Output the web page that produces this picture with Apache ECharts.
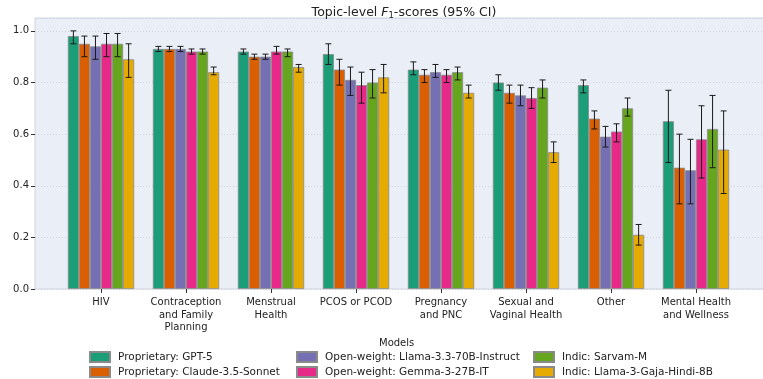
<!DOCTYPE html>
<html>
<head>
<meta charset="utf-8">
<script src="https://cdn.jsdelivr.net/npm/echarts@6/dist/echarts.min.js"></script>
<style>
  html, body { margin: 0; padding: 0; background: #fff; }
  #chart { width: 763px; height: 379px; }
</style>
</head>
<body>
<div id="chart"></div>
<script>
// topics on the x axis
var categories = ['HIV', 'Contraception\nand Family\nPlanning', 'Menstrual\nHealth', 'PCOS or PCOD',
  'Pregnancy\nand PNC', 'Sexual and\nVaginal Health', 'Other', 'Mental Health\nand Wellness'];

var models = ['Proprietary: GPT-5', 'Proprietary: Claude-3.5-Sonnet', 'Open-weight: Llama-3.3-70B-Instruct',
  'Open-weight: Gemma-3-27B-IT', 'Indic: Sarvam-M', 'Indic: Llama-3-Gaja-Hindi-8B'];

var colors = ['#1b9e77', '#d95f02', '#7570b3', '#e7298a', '#66a61e', '#e6ab02'];

// F1 scores + 95% CI bounds, per model
var gpt5     = [0.98, 0.93, 0.92, 0.91, 0.85, 0.80, 0.79, 0.65];
var gpt5Lo   = [0.95, 0.92, 0.91, 0.87, 0.83, 0.77, 0.76, 0.49];
var gpt5Hi   = [1.00, 0.94, 0.93, 0.95, 0.88, 0.83, 0.81, 0.77];
var claude   = [0.95, 0.93, 0.90, 0.85, 0.83, 0.76, 0.66, 0.47];
var claudeLo = [0.90, 0.92, 0.89, 0.79, 0.80, 0.72, 0.62, 0.33];
var claudeHi = [0.98, 0.94, 0.91, 0.89, 0.85, 0.79, 0.69, 0.60];
var llama    = [0.94, 0.93, 0.90, 0.81, 0.84, 0.75, 0.59, 0.46];
var llamaLo  = [0.89, 0.92, 0.89, 0.75, 0.82, 0.71, 0.55, 0.33];
var llamaHi  = [0.98, 0.94, 0.91, 0.86, 0.87, 0.79, 0.63, 0.58];
var gemma    = [0.95, 0.92, 0.92, 0.79, 0.83, 0.74, 0.61, 0.58];
var gemmaLo  = [0.90, 0.91, 0.91, 0.72, 0.80, 0.70, 0.57, 0.43];
var gemmaHi  = [0.99, 0.93, 0.94, 0.84, 0.85, 0.78, 0.64, 0.71];
var sarvam   = [0.95, 0.92, 0.92, 0.80, 0.84, 0.78, 0.70, 0.62];
var sarvamLo = [0.90, 0.91, 0.90, 0.74, 0.81, 0.74, 0.67, 0.47];
var sarvamHi = [0.99, 0.93, 0.93, 0.85, 0.86, 0.81, 0.74, 0.75];
var gaja     = [0.89, 0.84, 0.86, 0.82, 0.76, 0.53, 0.21, 0.54];
var gajaLo   = [0.82, 0.83, 0.84, 0.76, 0.74, 0.49, 0.17, 0.37];
var gajaHi   = [0.95, 0.86, 0.87, 0.87, 0.79, 0.57, 0.25, 0.69];

var yTicks = [0, 0.2, 0.4, 0.6, 0.8, 1.0];

var values = [gpt5, claude, llama, gemma, sarvam, gaja];
var lows = [gpt5Lo, claudeLo, llamaLo, gemmaLo, sarvamLo, gajaLo];
var highs = [gpt5Hi, claudeHi, llamaHi, gemmaHi, sarvamHi, gajaHi];

var FONT = 'DejaVu Sans';
var BAR_FRAC = 0.13;

var series = [];
models.forEach(function (m, i) {
  series.push({
    name: m,
    type: 'bar',
    xAxisIndex: 1,
    yAxisIndex: 1,
    barWidth: (BAR_FRAC * 100) + '%',
    barGap: '0%',
    itemStyle: { color: colors[i], borderColor: '#8a8a8a', borderWidth: 0.8 },
    data: values[i]
  });
});

// error bars
var errData = [];
for (var m = 0; m < models.length; m++) {
  for (var c = 0; c < categories.length; c++) {
    errData.push([c, m, lows[m][c], highs[m][c]]);
  }
}
series.push({
  type: 'custom',
  xAxisIndex: 1,
  yAxisIndex: 1,
  z: 10,
  silent: true,
  encode: { x: 0, y: [2, 3] },
  data: errData,
  renderItem: function (params, api) {
    var band = api.size([1, 0])[0];
    var off = (api.value(1) - 2.5) * band * BAR_FRAC;
    var lo = api.coord([api.value(0), api.value(2)]);
    var hi = api.coord([api.value(0), api.value(3)]);
    var x = lo[0] + off;
    var cw = 3;
    var st = { stroke: '#1a1a1a', lineWidth: 1 };
    return {
      type: 'group',
      children: [
        { type: 'line', shape: { x1: x, y1: lo[1], x2: x, y2: hi[1] }, style: st },
        { type: 'line', shape: { x1: x - cw, y1: lo[1], x2: x + cw, y2: lo[1] }, style: st },
        { type: 'line', shape: { x1: x - cw, y1: hi[1], x2: x + cw, y2: hi[1] }, style: st }
      ]
    };
  }
});

// one legend per column, like matplotlib ncol=3
function legendCol(left, names) {
  return {
    orient: 'vertical',
    left: left,
    top: 351,
    height: 30,
    padding: 0,
    itemWidth: 20,
    itemHeight: 10,
    itemGap: 3,
    icon: 'rect',
    data: names,
    textStyle: { fontFamily: FONT, fontSize: 10.5, lineHeight: 12, color: '#222', padding: [0, 0, 0, 3] }
  };
}

var chart = echarts.init(document.getElementById('chart'));
var option = {
  animation: false,
  backgroundColor: '#fff',
  title: {
    text: 'Topic-level {i|F}{s|1}-scores (95% CI)',
    left: 399,
    textAlign: 'center',
    top: 0,
    textStyle: {
      fontFamily: FONT, fontSize: 12.5, fontWeight: 'normal', color: '#222',
      rich: {
        i: { fontFamily: FONT, fontSize: 12.5, fontStyle: 'italic', color: '#222' },
        s: { fontFamily: FONT, fontSize: 8.5, color: '#222', verticalAlign: 'bottom', padding: [6, 0, 0, 0] }
      }
    }
  },
  graphic: [{
    type: 'text',
    left: 398 - 19,
    top: 338,
    style: { text: 'Models', fontFamily: FONT, fontSize: 10, fill: '#222' }
  }],
  legend: [
    legendCol(89, [models[0], models[1]]),
    legendCol(296, [models[2], models[3]]),
    legendCol(533, [models[4], models[5]])
  ],
  grid: [
    { left: 35, right: -2, top: 18, bottom: 90, show: true, outerBoundsMode: 'none', containLabel: false,
      backgroundColor: '#eaeef7', borderColor: '#cfd4e0', borderWidth: 1 },
    { left: 58.5, right: 24.5, top: 18, bottom: 90, outerBoundsMode: 'none', containLabel: false }
  ],
  xAxis: [
    { gridIndex: 0, type: 'value', show: false, min: 0, max: 1 },
    {
      gridIndex: 1,
      type: 'category',
      data: categories,
      axisLine: { show: false },
      axisTick: { show: true, alignWithLabel: true, length: 4, lineStyle: { color: '#333' } },
      axisLabel: { fontFamily: FONT, fontSize: 10, color: '#222', lineHeight: 12.7, margin: 7, interval: 0 }
    }
  ],
  yAxis: [
    {
      gridIndex: 0,
      type: 'value',
      min: 0,
      max: 1.05,
      interval: 0.2,
      name: '{i|F}{s|1}-score',
      nameLocation: 'middle',
      nameGap: 24,
      nameTextStyle: {
        fontFamily: FONT, fontSize: 10.5, color: '#222',
        rich: {
          i: { fontFamily: FONT, fontSize: 10.5, fontStyle: 'italic', color: '#222' },
          s: { fontFamily: FONT, fontSize: 7.5, color: '#222', padding: [5, 0, 0, 0] }
        }
      },
      axisLine: { show: false },
      axisTick: { show: true, length: 4, lineStyle: { color: '#333' } },
      axisLabel: {
        fontFamily: FONT, fontSize: 10, color: '#222', margin: 6, showMaxLabel: false,
        formatter: function (v) { return yTicks.indexOf(Math.round(v * 10) / 10) >= 0 && v <= 1.0001 ? v.toFixed(1) : ''; }
      },
      splitLine: { show: true, lineStyle: { color: '#c9cdd8', width: 0.8, type: [1, 2] } }
    },
    { gridIndex: 1, type: 'value', min: 0, max: 1.05, show: false }
  ],
  series: series
};
chart.setOption(option);
window.onresize = chart.resize;
</script>
</body>
</html>
